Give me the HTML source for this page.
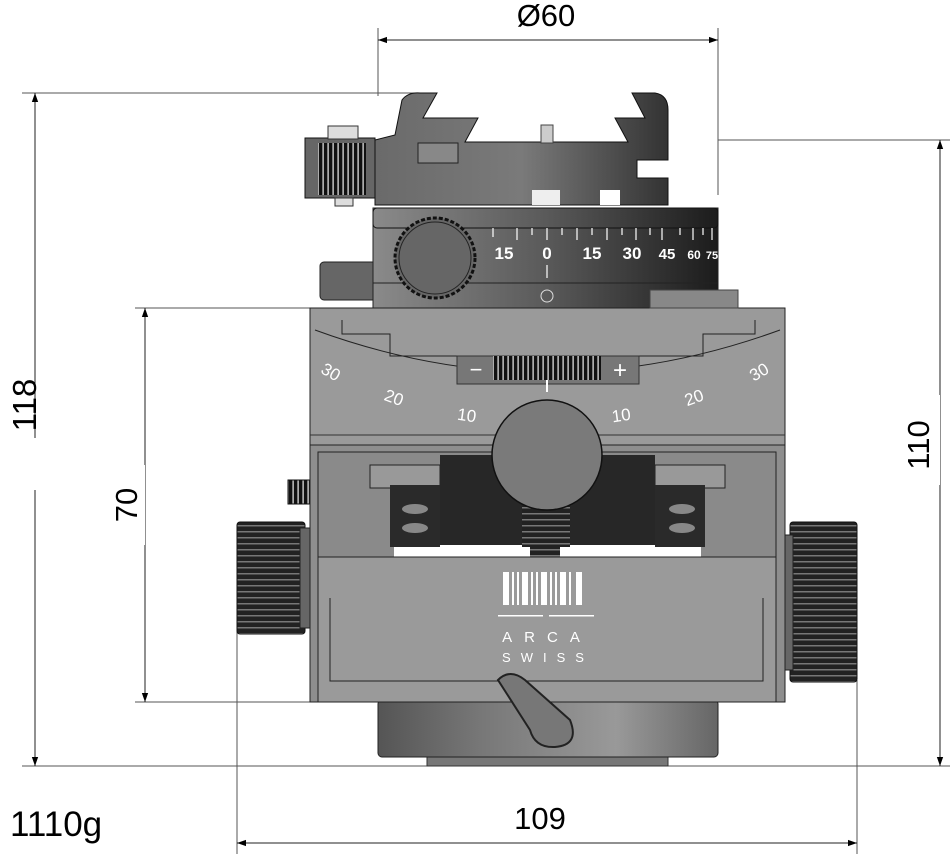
<!DOCTYPE html>
<html><head><meta charset="utf-8"><style>
html,body{margin:0;padding:0;background:#fff;}
svg{display:block;font-family:"Liberation Sans",Arial,sans-serif;}
</style></head><body>
<svg width="950" height="854" viewBox="0 0 950 854" xmlns="http://www.w3.org/2000/svg">
<defs>
<linearGradient id="ring" x1="0" x2="1"><stop offset="0" stop-color="#8a8a8a"/><stop offset="0.5" stop-color="#5a5a5a"/><stop offset="1" stop-color="#1c1c1c"/></linearGradient>
<linearGradient id="clamp" x1="0" x2="1"><stop offset="0" stop-color="#6a6a6a"/><stop offset="0.5" stop-color="#7a7a7a"/><stop offset="1" stop-color="#333"/></linearGradient>
<linearGradient id="cyl" x1="0" x2="1"><stop offset="0" stop-color="#555"/><stop offset="0.3" stop-color="#777"/><stop offset="0.7" stop-color="#999"/><stop offset="1" stop-color="#666"/></linearGradient>
<pattern id="knurlH" width="6" height="6" patternUnits="userSpaceOnUse"><rect width="6" height="6" fill="#222"/><rect y="3" width="6" height="1.5" fill="#777"/></pattern>
<pattern id="knurlV" width="5" height="5" patternUnits="userSpaceOnUse"><rect width="5" height="5" fill="#111"/><rect x="2.5" width="1.2" height="5" fill="#eee"/></pattern>
<marker id="ah" viewBox="0 0 10 10" refX="10" refY="5" markerWidth="30" markerHeight="9" markerUnits="userSpaceOnUse" orient="auto-start-reverse"><path d="M0,1.5 L10,5 L0,8.5 Z" fill="#000"/></marker>
</defs>

<g stroke="#555" stroke-width="1" fill="none">
<line x1="378" y1="28" x2="378" y2="96"/>
<line x1="718" y1="28" x2="718" y2="195"/>
<line x1="22" y1="93" x2="420" y2="93"/>
<line x1="718" y1="140" x2="950" y2="140"/>
<line x1="135" y1="308" x2="312" y2="308"/>
<line x1="135" y1="702" x2="312" y2="702"/>
<line x1="22" y1="766" x2="950" y2="766"/>
<line x1="237" y1="580" x2="237" y2="854"/>
<line x1="857" y1="680" x2="857" y2="854"/>
</g>
<g stroke="#222" stroke-width="1">
<line x1="378" y1="40" x2="718" y2="40" marker-start="url(#ah)" marker-end="url(#ah)"/>
<line x1="35" y1="93" x2="35" y2="438" marker-start="url(#ah)"/>
<line x1="35" y1="490" x2="35" y2="766" marker-end="url(#ah)"/>
<line x1="940" y1="140" x2="940" y2="766" marker-start="url(#ah)" marker-end="url(#ah)"/>
<line x1="145" y1="308" x2="145" y2="702" marker-start="url(#ah)" marker-end="url(#ah)"/>
<line x1="237" y1="843" x2="857" y2="843" marker-start="url(#ah)" marker-end="url(#ah)"/>
</g>
<rect x="900" y="395" width="40" height="90" fill="#fff"/>
<rect x="100" y="465" width="45" height="80" fill="#fff"/>
<g font-size="31" fill="#000">
<text x="546" y="26" text-anchor="middle">Ø60</text>
<text x="540" y="829" text-anchor="middle">109</text>
<text x="10" y="836" font-size="35">1110g</text>
<text transform="translate(36,405) rotate(-90)" text-anchor="middle" font-size="33">118</text>
<text transform="translate(929,445) rotate(-90)" text-anchor="middle" font-size="31">110</text>
<text transform="translate(137,505) rotate(-90)" text-anchor="middle" font-size="31">70</text>
</g>

<rect x="427" y="755" width="241" height="11" fill="#777" stroke="#333"/>
<rect x="378" y="700" width="340" height="57" rx="4" fill="url(#cyl)" stroke="#222"/>

<rect x="237" y="522" width="68" height="112" rx="3" fill="url(#knurlH)" stroke="#111"/>
<rect x="300" y="528" width="10" height="100" fill="#666" stroke="#222"/>
<rect x="790" y="522" width="67" height="160" rx="3" fill="url(#knurlH)" stroke="#111"/>
<rect x="783" y="535" width="10" height="135" fill="#666" stroke="#222"/>
<rect x="288" y="480" width="22" height="24" fill="url(#knurlV)" stroke="#111"/>

<rect x="310" y="308" width="475" height="394" fill="#8e8e8e" stroke="#222"/>
<rect x="310" y="308" width="475" height="137" fill="#9a9a9a" stroke="#222"/>
<path d="M342,320 L342,334 L390,334 L390,356 L703,356 L703,334 L755,334 L755,320" fill="none" stroke="#222"/>
<path d="M315,330 Q547,415 780,330" fill="none" stroke="#222"/>
<line x1="310" y1="435" x2="785" y2="435" stroke="#333"/>
<rect x="318" y="452" width="458" height="105" fill="#8a8a8a" stroke="#222"/>
<path d="M370,465 L370,488 L440,488 L440,465 Z M655,465 L655,488 L725,488 L725,465 Z" fill="#999" stroke="#222"/>
<rect x="394" y="540" width="307" height="17" fill="#fff"/>
<rect x="440" y="455" width="215" height="95" fill="#272727"/>
<rect x="440" y="545" width="215" height="12" fill="#fff"/>
<rect x="390" y="485" width="50" height="62" fill="#2a2a2a"/>
<rect x="655" y="485" width="50" height="62" fill="#2a2a2a"/>
<rect x="522" y="495" width="48" height="52" fill="url(#knurlH)"/>
<rect x="530" y="545" width="30" height="12" fill="url(#knurlH)"/>
<g fill="#888"><ellipse cx="415" cy="509" rx="13" ry="5"/><ellipse cx="415" cy="528" rx="13" ry="5"/><ellipse cx="682" cy="509" rx="13" ry="5"/><ellipse cx="682" cy="528" rx="13" ry="5"/></g>
<rect x="318" y="557" width="458" height="145" fill="#9a9a9a" stroke="#222"/>
<path d="M330,598 L330,681 L763,681 L763,598" fill="none" stroke="#222"/>
<g fill="#fff">
<rect x="503" y="572" width="6" height="33"/><rect x="512" y="572" width="2" height="33"/><rect x="517" y="572" width="2" height="33"/><rect x="522" y="572" width="6" height="33"/><rect x="531" y="572" width="2" height="33"/><rect x="536" y="572" width="2" height="33"/><rect x="541" y="572" width="6" height="33"/><rect x="550" y="572" width="2" height="33"/><rect x="555" y="572" width="2" height="33"/><rect x="560" y="572" width="6" height="33"/><rect x="569" y="572" width="2" height="33"/><rect x="576" y="572" width="6" height="33"/>
<rect x="498" y="615" width="45" height="1.5"/><rect x="549" y="615" width="45" height="1.5"/>
</g>
<text x="547" y="642" text-anchor="middle" fill="#fff" font-size="15" letter-spacing="12">ARCA</text>
<text x="548" y="662" text-anchor="middle" fill="#fff" font-size="13" letter-spacing="10">SWISS</text>
<path d="M498,680 Q510,668 525,680 L570,720 Q580,745 555,747 Q535,748 530,730 Z" fill="#777" stroke="#222" stroke-width="2"/>

<g fill="#fff" font-size="17" text-anchor="middle">
<text x="328" y="377" transform="rotate(30 328 377)">30</text>
<text x="392" y="403" transform="rotate(20 392 403)">20</text>
<text x="466" y="421" transform="rotate(8 466 421)">10</text>
<text x="622" y="421" transform="rotate(-8 622 421)">10</text>
<text x="696" y="403" transform="rotate(-20 696 403)">20</text>
<text x="762" y="377" transform="rotate(-30 762 377)">30</text>
</g>
<rect x="457" y="356" width="182" height="28" fill="#777" stroke="#333"/>
<rect x="493" y="356" width="108" height="24" fill="url(#knurlV)"/>
<text x="476" y="377" fill="#fff" font-size="22" text-anchor="middle">−</text>
<text x="620" y="378" fill="#fff" font-size="24" text-anchor="middle">+</text>
<line x1="547" y1="380" x2="547" y2="392" stroke="#fff" stroke-width="2"/>
<circle cx="547" cy="455" r="55" fill="#7a7a7a" stroke="#111" stroke-width="1.5"/>

<rect x="320" y="262" width="72" height="38" rx="4" fill="#666" stroke="#222"/>
<rect x="373" y="208" width="345" height="100" fill="url(#ring)" stroke="#222"/>
<rect x="373" y="208" width="345" height="20" rx="4" fill="url(#ring)" stroke="#111"/>
<line x1="373" y1="283" x2="718" y2="283" stroke="#222"/>
<rect x="650" y="290" width="88" height="18" fill="#888" stroke="#444"/>
<g stroke="#fff" stroke-width="1.2">
<line x1="493" y1="228" x2="493" y2="237"/><line x1="517" y1="228" x2="517" y2="240"/><line x1="532" y1="228" x2="532" y2="235"/><line x1="547" y1="228" x2="547" y2="240"/><line x1="562" y1="228" x2="562" y2="235"/><line x1="577" y1="228" x2="577" y2="240"/><line x1="592" y1="228" x2="592" y2="235"/><line x1="607" y1="228" x2="607" y2="240"/><line x1="622" y1="228" x2="622" y2="235"/><line x1="636" y1="228" x2="636" y2="240"/><line x1="650" y1="228" x2="650" y2="235"/><line x1="662" y1="228" x2="662" y2="240"/><line x1="680" y1="228" x2="680" y2="235"/><line x1="693" y1="228" x2="693" y2="240"/><line x1="703" y1="228" x2="703" y2="235"/><line x1="712" y1="228" x2="712" y2="240"/>
<line x1="547" y1="265" x2="547" y2="278"/>
</g>
<g fill="#fff" font-size="17" font-weight="bold" text-anchor="middle">
<text x="504" y="259">15</text><text x="547" y="259">0</text><text x="592" y="259">15</text><text x="632" y="259">30</text><text x="667" y="259" font-size="15">45</text><text x="694" y="259" font-size="12">60</text><text x="712" y="259" font-size="11">75</text>
</g>
<circle cx="547" cy="296" r="6" fill="none" stroke="#ddd"/>
<circle cx="435" cy="258" r="40" fill="#666" stroke="#111" stroke-width="3" stroke-dasharray="4 2"/>
<circle cx="435" cy="258" r="36" fill="#666" stroke="#222"/>

<path d="M402,100 Q408,92 420,93 L437,93 L423,118 L478,118 L465,142 L628,142 L615,118 L645,118 L632,93 L655,93 Q668,95 668,110 L668,160 L637,160 L637,178 L668,178 L668,205 L375,205 L375,140 L395,135 Z" fill="url(#clamp)" stroke="#111"/>
<rect x="418" y="143" width="40" height="20" fill="#888" stroke="#222"/>
<rect x="532" y="190" width="28" height="15" fill="#eee"/>
<rect x="600" y="190" width="20" height="15" fill="#fff"/>
<rect x="541" y="125" width="12" height="18" fill="#ccc" stroke="#444"/>
<rect x="305" y="138" width="70" height="60" fill="#666" stroke="#111"/>
<rect x="318" y="143" width="48" height="52" fill="url(#knurlV)"/>
<rect x="328" y="126" width="30" height="13" fill="#ddd" stroke="#333"/>
<rect x="335" y="198" width="18" height="8" fill="#ddd" stroke="#333"/>
</svg>
</body></html>
